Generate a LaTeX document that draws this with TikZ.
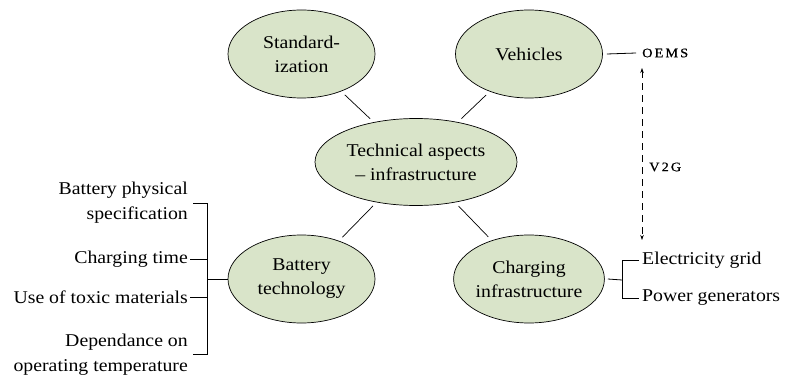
\documentclass[tikz,border=0pt]{standalone}
\usepackage{fontspec}
\setmainfont[FakeStretch=1.1]{Liberation Serif}
\usetikzlibrary{shapes.geometric,arrows.meta}
\definecolor{ellfill}{HTML}{D9E4C9}
\newcommand{\smallcapsish}[1]{{\fontsize{13}{14}\selectfont\addfontfeature{LetterSpace=16,FakeBold=0.6}#1}}
\tikzset{
  topic/.style={ellipse, draw=black, line width=0.7pt, fill=ellfill, inner sep=0pt,
    minimum width=147pt, minimum height=88pt, align=center, font=\fontsize{18}{24}\selectfont},
  item/.style={inner sep=0pt, align=right, font=\fontsize{18}{25}\selectfont},
  itemr/.style={inner sep=0pt, align=left, font=\fontsize{18}{21}\selectfont},
  link/.style={line width=0.7pt, shorten <=5pt, shorten >=5pt},
  brack/.style={line width=0.8pt},
}
\begin{document}
\begin{tikzpicture}[x=1pt,y=-1pt]
\useasboundingbox (0,0) rectangle (786,379);
\node[topic] (std) at (301.5,54) {Standard-\\ization};
\node[topic] (veh) at (529,54) {Vehicles};
\node[topic, minimum width=202pt, minimum height=87pt] (tech) at (416,162) {Technical aspects\\– infrastructure};
\node[topic] (bat) at (301.5,279) {Battery\\technology};
\node[topic] (chg) at (529,279) {Charging\\infrastructure};
\draw[link] (std) -- (tech);
\draw[link] (veh) -- (tech);
\draw[link] (bat) -- (tech);
\draw[link] (chg) -- (tech);
% left bracket
\coordinate (lt) at (207,203);
\coordinate (lb) at (207,354);
\coordinate (lm) at (207,279);
\node[item, anchor=east] (i1) at (188,203) {Battery physical\\specification};
\node[item, anchor=east] (i2) at (188,259) {Charging time};
\node[item, anchor=east] (i3) at (188,297) {Use of toxic materials};
\node[item, anchor=east] (i4) at (188,355) {Dependance on\\operating temperature};
\draw[brack] (193,203) -- (lt) -- (lb) -- (193,354);
\draw[brack] (i2.east) ++(2,0) -- (207,259);
\draw[brack] (i3.east) ++(2,0) -- (207,297);
\draw[brack] (lm) -- (bat.west);
% right bracket
\coordinate (rm) at (622,280);
\node[itemr, anchor=west] (e1) at (642,260) {Electricity grid};
\node[itemr, anchor=west] (e2) at (642,298) {Power generators};
\draw[brack] (chg.east) ++(3,0) -- (rm);
\draw[brack] (e1.west) ++(-3,0) -- (622,260) -- (622,298) -- ([xshift=-3pt]e2.west);
% OEMS and V2G
\node[anchor=west, inner sep=0pt] (oems) at (642,53) {\smallcapsish{OEMS}};
\draw[brack] (veh.east) ++(4,0) -- ([xshift=-6pt]oems.west);
\coordinate (at) at (642,68);
\coordinate (ab) at (642,240);
\draw[line width=0.6pt, dash pattern=on 7pt off 5pt, {Stealth[length=5pt,width=3.5pt]}-{Stealth[length=5pt,width=3.5pt]}] (at) -- (ab);
\node[anchor=west, inner sep=0pt] (v2g) at (649,167) {\smallcapsish{V2G}};
\end{tikzpicture}
\end{document}
